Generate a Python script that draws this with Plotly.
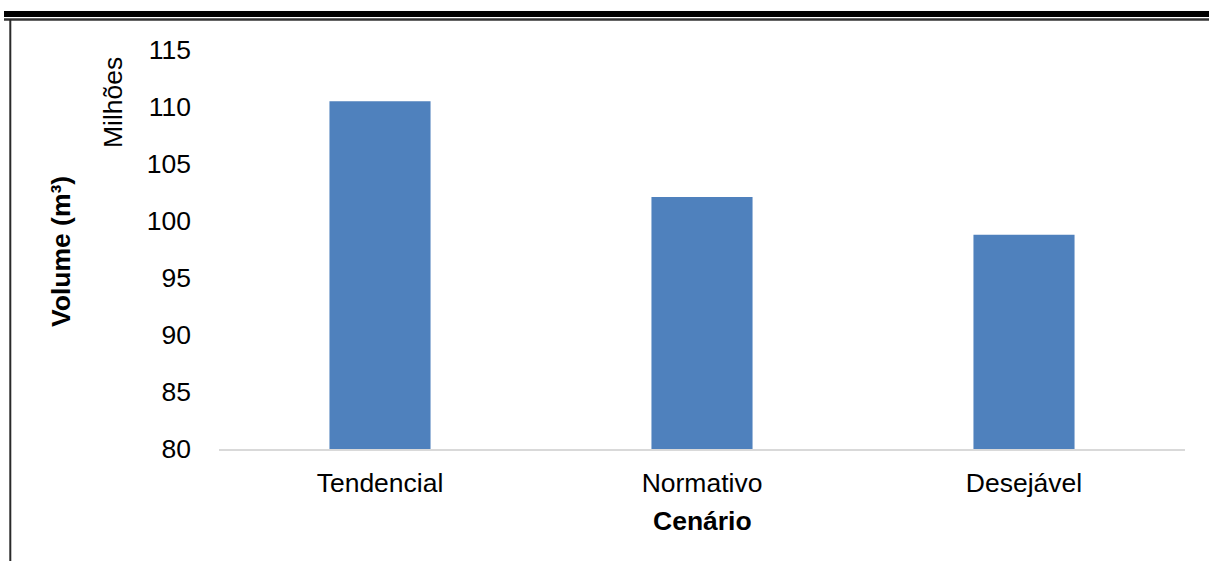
import plotly.graph_objects as go

# Scenario volumes (millions of m³)
cenarios = ["Tendencial", "Normativo", "Desejável"]
volumes = [110.5, 102.1, 98.8]
y_ticks = [80, 85, 90, 95, 100, 105, 110, 115]

FONT = "Liberation Sans, Arial, sans-serif"
FS = 26.5
W, H = 1209, 561
L, R, T, B = 219, 24, 50, 112
PW, PH = W - L - R, H - T - B


def px_x(px):
    return (px - L) / PW


def px_y(py):
    return (H - B - py) / PH


fig = go.Figure(
    go.Bar(
        x=cenarios,
        y=volumes,
        width=0.314,
        marker=dict(color="#4F81BD", line=dict(width=0)),
    )
)

fig.update_layout(
    width=W,
    height=H,
    margin=dict(l=L, r=R, t=T, b=B),
    paper_bgcolor="white",
    plot_bgcolor="white",
    showlegend=False,
    font=dict(family=FONT, size=FS, color="black"),
    xaxis=dict(
        showline=True,
        linecolor="#D9D9D9",
        linewidth=2,
        showgrid=False,
        ticks="",
        ticklabelstandoff=9,
        tickfont=dict(size=FS),
    ),
    yaxis=dict(
        range=[80, 115],
        tickvals=y_ticks,
        ticktext=[str(v) for v in y_ticks],
        showline=False,
        showgrid=False,
        zeroline=False,
        ticks="",
        ticklabelstandoff=27,
        tickfont=dict(size=FS),
    ),
    annotations=[
        dict(text="Milhões", x=px_x(113), y=px_y(103), xref="paper", yref="paper",
             showarrow=False, textangle=-90, font=dict(size=FS),
             xanchor="center", yanchor="middle"),
        dict(text="<b>Volume (m³)</b>", x=px_x(61), y=px_y(252), xref="paper", yref="paper",
             showarrow=False, textangle=-90, font=dict(size=FS),
             xanchor="center", yanchor="middle"),
        dict(text="<b>Cenário</b>", x=px_x(702), y=px_y(521), xref="paper", yref="paper",
             showarrow=False, font=dict(size=FS),
             xanchor="center", yanchor="middle"),
    ],
    shapes=[
        # heavy rule across the top
        dict(type="line", xref="paper", yref="paper",
             x0=px_x(4), x1=px_x(W + 5), y0=px_y(14), y1=px_y(14),
             line=dict(color="black", width=6)),
        # thin rule under it
        dict(type="line", xref="paper", yref="paper",
             x0=px_x(4), x1=px_x(W + 5), y0=px_y(19.5), y1=px_y(19.5),
             line=dict(color="#333333", width=2.5)),
        # left border
        dict(type="line", xref="paper", yref="paper",
             x0=px_x(10.3), x1=px_x(10.3), y0=px_y(19), y1=px_y(H + 5),
             line=dict(color="#2a2a2a", width=2)),
    ],
)

fig.write_html("out.html")
